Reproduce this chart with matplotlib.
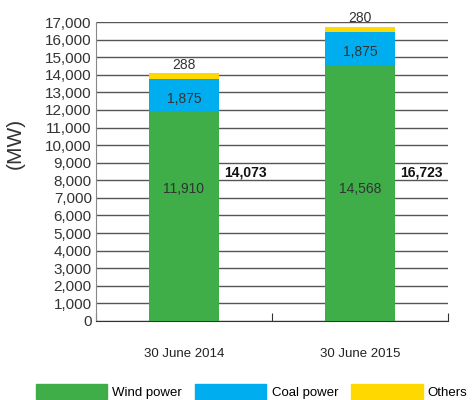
import matplotlib.pyplot as plt
from matplotlib.patches import Patch

plt.rcParams['font.family'] = ['Liberation Sans', 'DejaVu Sans']

dates = ["30 June 2014", "30 June 2015"]
wind = [11910, 14568]
coal = [1875, 1875]
others = [288, 280]
totals = [14073, 16723]

green = "#3fae49"
blue = "#00adef"
yellow = "#ffd800"
txt = "#333333"

fig = plt.figure(figsize=(4.73, 4.00), dpi=100)
ax = fig.add_axes([0.203, 0.1975, 0.744, 0.7475])

x = [0, 1]
w = 0.4
ax.bar(x, wind, w, color=green, zorder=3)
ax.bar(x, coal, w, bottom=wind, color=blue, zorder=3)
bott = [a + b for a, b in zip(wind, coal)]
ax.bar(x, others, w, bottom=bott, color=yellow, zorder=3)

for i in x:
    ax.text(i, 7500, f"{wind[i]:,}", ha="center", va="center", fontsize=10, color=txt, zorder=4)
    ax.text(i, wind[i] + coal[i] / 2 - 200, f"{coal[i]:,}", ha="center", va="center",
            fontsize=10, color=txt, zorder=4)
    ax.text(i, bott[i] + others[i] + 80, f"{others[i]:,}", ha="center", va="bottom",
            fontsize=10, color=txt, zorder=4)
    ax.text(i + 0.23, 8450, f"{totals[i]:,}", ha="left", va="center", fontsize=10,
            fontweight="bold", color="#111111", zorder=4)

ax.set_xlim(-0.5, 1.5)
ax.set_ylim(0, 17000)
ax.set_yticks(range(0, 17001, 1000))
ax.set_yticklabels([f"{v:,}" for v in range(0, 17001, 1000)], fontsize=11, color=txt)
ax.tick_params(axis="y", length=0, pad=3)
ax.yaxis.grid(True, color="#555555", linewidth=1)
ax.set_axisbelow(True)

ax.set_xticks([-0.5, 0.5, 1.5])
ax.set_xticklabels([])
ax.tick_params(axis="x", direction="in", length=6, color="#333333")
for i in x:
    ax.text(i, -1850, dates[i], ha="center", va="center", fontsize=9.5, color="#222222")

for s in ["top", "right"]:
    ax.spines[s].set_visible(False)
ax.spines["left"].set_color("#888888")
ax.spines["bottom"].set_color("#333333")

fig.text(15 / 473, 1 - 143 / 400, "(MW)", rotation=90, ha="center", va="center",
         fontsize=15, color=txt)

handles = [Patch(color=green, label="Wind power"),
           Patch(color=blue, label="Coal power"),
           Patch(color=yellow, label="Others")]
fig.legend(handles=handles, loc="lower center", bbox_to_anchor=(0.532, -0.028), ncol=3,
           frameon=False, fontsize=9.5, handlelength=5.4, handleheight=1.4,
           handletextpad=0.4, columnspacing=1.0)

fig.savefig("out.png", dpi=100)
